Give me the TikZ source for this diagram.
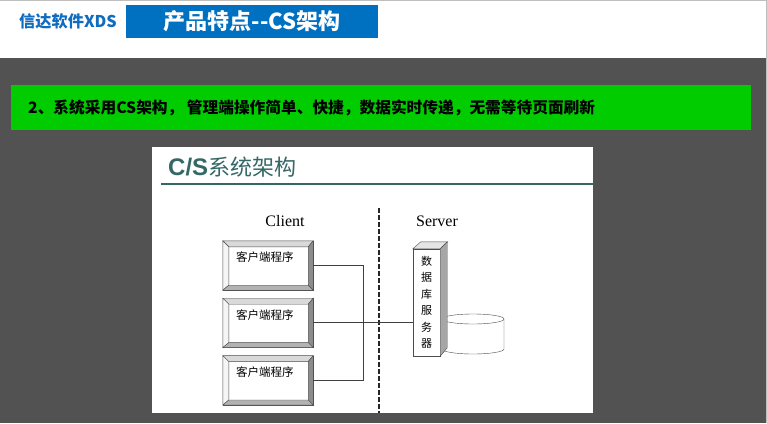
\documentclass[tikz,border=0pt]{standalone}
\usepackage{fontspec}
\setmainfont{Liberation Serif}
\newfontfamily\cjk{Noto Sans CJK SC}
\newfontfamily\hei{Liberation Sans}
\usetikzlibrary{positioning}
\definecolor{hdrblue}{RGB}{0,112,192}
\definecolor{xdsblue}{RGB}{16,108,190}
\definecolor{slide}{RGB}{82,82,82}
\definecolor{bar}{RGB}{0,204,0}
\definecolor{cstitle}{RGB}{52,104,102}
\begin{document}
\begin{tikzpicture}[x=1pt,y=-1pt,
  client/.style={draw=black!70,fill=white,minimum width=90pt,minimum height=49pt,inner sep=0pt},
  caption/.style={font=\cjk\fontsize{11.5}{11.5}\selectfont,inner sep=0pt,anchor=north west},
  wire/.style={draw=black!75,line width=0.9pt},
  divider/.style={draw=black!85,line width=1.6pt,dash pattern=on 5pt off 2pt}]

  \useasboundingbox (0,0) rectangle (767,423);
  \fill[white] (0,0) rectangle (767,423);
  \fill[slide] (0,58) rectangle (766,423);
  \draw[black!25] (0,0.5) -- (767,0.5);
  \draw[black!25] (766.5,0) -- (766.5,423);

  % header
  \node[anchor=west,inner sep=0pt,text=xdsblue,font=\cjk\bfseries\fontsize{16.2}{16}\selectfont] (brand) at (19,21) {信达软件XDS};
  \node[fill=hdrblue,minimum width=252pt,minimum height=33pt,inner sep=0pt,text=white,
    font=\cjk\bfseries\fontsize{22}{22}\selectfont] (banner) at (252,21.5) {产品特点--CS架构};

  % green bar
  \fill[bar] (11,85) rectangle (751,130);
  \node[anchor=west,inner sep=0pt,font=\cjk\bfseries\fontsize{15.7}{16}\selectfont] (slogan) at (28,107.5)
    {2、系统采用CS架构， 管理端操作简单、快捷，数据实时传递，无需等待页面刷新};

  % picture
  \fill[white] (152,147) rectangle (593,413);
  \node[anchor=west,inner sep=0pt,text=cstitle] (title) at (168,167)
    {{\hei\bfseries\fontsize{24}{24}\selectfont C/S}{\cjk\fontsize{22}{22}\selectfont 系统架构}};
  \coordinate (rulel) at (161,184);
  \coordinate (ruler) at (593,184);
  \draw[cstitle,line width=1.5pt] (rulel) -- (ruler);

  \node[font=\fontsize{16}{16}\selectfont] (clientlbl) at (285,221) {Client};
  \node[font=\fontsize{16}{16}\selectfont] (serverlbl) at (437,221) {Server};
  \coordinate (dtop) at (379,208);
  \coordinate (dbot) at (379,413);
  \draw[divider] (dtop) -- (dbot);

  \node[client] (c1) at (268,265.5) {};
  \node[client] (c2) [below=8pt of c1] {};
  \node[client] (c3) [below=8pt of c2] {};
  \foreach \n in {c1,c2,c3}{
    \coordinate (a) at ([shift={(6,6)}]\n.north west);
    \coordinate (b) at ([shift={(-5,6)}]\n.north east);
    \coordinate (c) at ([shift={(-5,-5)}]\n.south east);
    \coordinate (d) at ([shift={(6,-5)}]\n.south west);
    \filldraw[draw=black!70,fill=black!15] (\n.north west) -- (\n.north east) -- (b) -- (a) -- cycle;
    \filldraw[draw=black!70,fill=black!4] (\n.north west) -- (a) -- (d) -- (\n.south west) -- cycle;
    \filldraw[draw=black!70,fill=black!45] (\n.north east) -- (\n.south east) -- (c) -- (b) -- cycle;
    \filldraw[draw=black!70,fill=black!30] (\n.south west) -- (d) -- (c) -- (\n.south east) -- cycle;
    \node[caption] at ([shift={(13,11)}]\n.north west) {客户端程序};
  }

  % database
  \coordinate (db) at (473,319);
  \filldraw[draw=black!70,fill=white] ([xshift=-31pt]db) -- ++(0,30)
    arc[start angle=180,end angle=360,x radius=31pt,y radius=5pt] -- ([xshift=31pt]db) -- cycle;
  \draw[black!70,fill=white] (db) ellipse[x radius=31pt,y radius=5pt];

  \node[draw=black!70,fill=white,minimum width=27pt,minimum height=107pt,inner sep=0pt,
    font=\cjk\fontsize{11}{16.5}\selectfont,align=center] (srv) at (426.5,302.5) {数\\据\\库\\服\\务\\器};
  \filldraw[draw=black!70,fill=black!10] (srv.north west) -- ++(8,-7) -- ++(27,0) -- (srv.north east) -- cycle;
  \filldraw[draw=black!70,fill=black!35] (srv.north east) -- ++(7,-7) -- ++(0,106) -- (srv.south east) -- cycle;

  \coordinate (j) at (c2.east -| dtop);
  \coordinate (j) at ([xshift=-16pt]j);
  \draw[wire] (c1.east) -| (j);
  \draw[wire] (c3.east) -| (j);
  \draw[wire] (c2.east) -- (j) -- (j -| srv.west);
\end{tikzpicture}
\end{document}
